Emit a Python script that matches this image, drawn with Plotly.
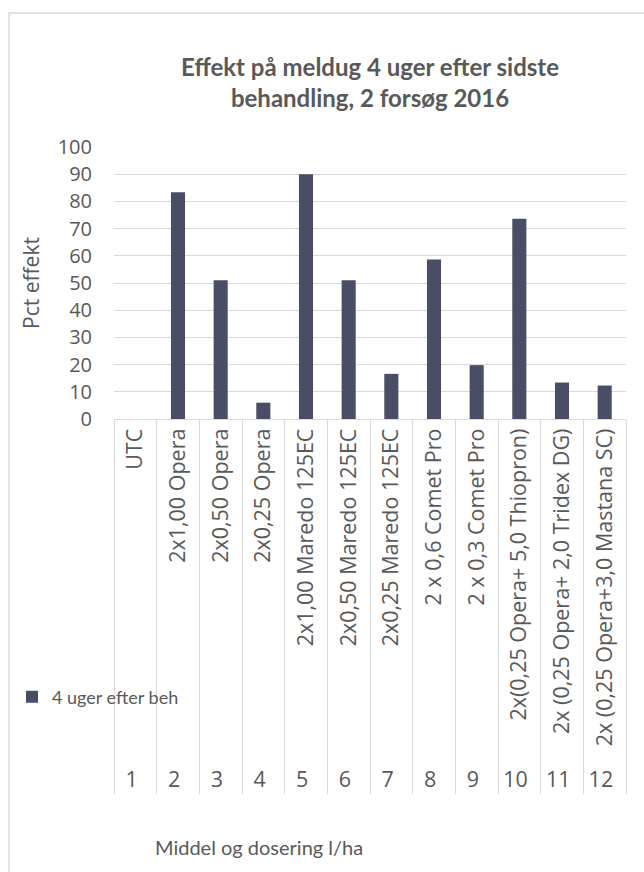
import plotly.graph_objects as go

numbers = ["1", "2", "3", "4", "5", "6", "7", "8", "9", "10", "11", "12"]
treatments = [
    "UTC",
    "2x1,00 Opera",
    "2x0,50 Opera",
    "2x0,25 Opera",
    "2x1,00 Maredo 125EC",
    "2x0,50 Maredo 125EC",
    "2x0,25 Maredo 125EC",
    "2 x 0,6 Comet Pro",
    "2 x 0,3 Comet Pro",
    "2x(0,25 Opera+ 5,0 Thiopron)",
    "2x (0,25 Opera+ 2,0 Tridex DG)",
    "2x (0,25 Opera+3,0 Mastana SC)",
]
effekt = [0, 83.4, 51.0, 6.0, 90.0, 51.0, 16.6, 58.6, 19.8, 73.6, 13.4, 12.3]
series_name = "4 uger efter beh"
y_ticks = [0, 10, 20, 30, 40, 50, 60, 70, 80, 90, 100]

W, H = 644, 872
ML, MR, MT, MB = 114, 18, 147, 453
TXT = "#595959"
GRID = "#D9D9D9"

fig = go.Figure()
fig.add_trace(go.Bar(
    x=[numbers, treatments],
    y=effekt,
    name=series_name,
    marker=dict(color="#4A4D66", line=dict(width=0)),
    showlegend=True,
))

def px_x(p):
    return (p - ML) / (W - ML - MR)

def px_y(p):
    return (H - MB - p) / (H - MT - MB)

fig.update_layout(
    width=W, height=H,
    margin=dict(l=ML, r=MR, t=MT, b=MB, autoexpand=False),
    paper_bgcolor="white", plot_bgcolor="white",
    bargap=0.67,
    font=dict(family="Open Sans", color=TXT),
    title=dict(
        text="<b>Effekt på meldug 4 uger efter sidste<br>behandling, 2 forsøg 2016</b>",
        font=dict(family="Lato", size=24, color=TXT),
        x=0.5, xanchor="center", xref="paper",
        y=1 - 76 / H, yanchor="middle",
    ),
    legend=dict(
        x=px_x(12), y=px_y(697), xanchor="left", yanchor="middle",
        font=dict(family="Lato", size=18, color=TXT),
        bgcolor="rgba(0,0,0,0)", itemwidth=30,
    ),
    xaxis=dict(
        type="multicategory",
        tickangle=-90,
        tickfont=dict(family="Open Sans", size=21.5, color=TXT),
        showline=True, linecolor=GRID, linewidth=1,
        showdividers=True, dividercolor=GRID, dividerwidth=1,
        ticks="", automargin=False,
    ),
    yaxis=dict(
        range=[0, 100], tickvals=y_ticks,
        showgrid=True, gridcolor=GRID, gridwidth=1,
        zeroline=False, showline=False,
        tickfont=dict(family="Open Sans", size=20, color=TXT),
        ticklabelstandoff=21,
        title=dict(text="Pct effekt", font=dict(family="Open Sans", size=21, color=TXT), standoff=12),
        automargin=False,
    ),
    annotations=[dict(
        text="Middel og dosering l/ha",
        xref="paper", yref="paper",
        x=px_x(259), y=px_y(847), xanchor="center", yanchor="middle",
        showarrow=False, font=dict(family="Lato", size=20, color=TXT),
    )],
    shapes=[dict(
        type="rect", xref="paper", yref="paper",
        x0=px_x(9), x1=px_x(W + 20), y0=px_y(H + 20), y1=px_y(13),
        line=dict(color=GRID, width=1.5), fillcolor="rgba(0,0,0,0)", layer="below",
    )],
)

fig.write_html("out.html", config={"displayModeBar": False},
               post_script="document.body.style.margin='0';")
